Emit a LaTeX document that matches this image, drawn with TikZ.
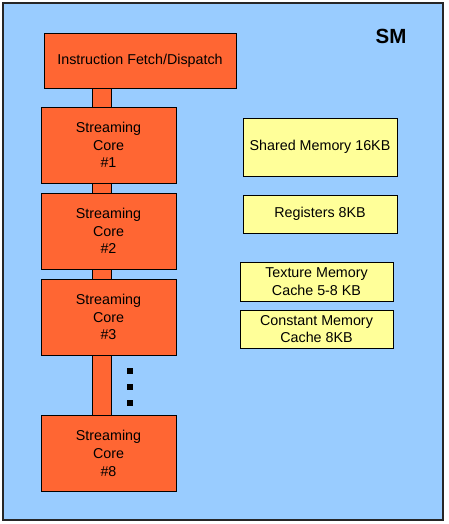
\documentclass[tikz,border=0pt]{standalone}
\usepackage{fontspec}
\setmainfont{Liberation Sans}
\usepackage{tikz}
\usetikzlibrary{backgrounds}
\usepackage{xcolor}
\definecolor{smblue}{HTML}{99CCFF}
\definecolor{coreorange}{HTML}{FF6633}
\definecolor{memyellow}{HTML}{FFFF99}
\tikzstyle{unit} = [draw=black, line width=0.8pt, fill=coreorange, align=center, inner sep=0pt, font=\fontsize{14.3}{17.8}\selectfont]
\tikzstyle{core} = [unit, minimum width=135pt, minimum height=76pt]
\tikzstyle{mem} = [unit, fill=memyellow, minimum width=154pt]
\tikzstyle{bus} = [draw=black, line width=0.8pt, fill=coreorange]
\tikzstyle{dot} = [fill=black, minimum size=6pt, inner sep=0pt]

\begin{document}
\begin{tikzpicture}[x=1pt, y=-1pt]
		            \useasboundingbox (0,0) rectangle (449,524);
		                \node [unit, minimum width=192pt, minimum height=55pt] (fetch) at (140,60.5) {Instruction Fetch/Dispatch};
		                \node [core] (core1) at (108.5,145) {Streaming\\Core\\\#1};
		                \node [core] (core2) at (108.5,231) {Streaming\\Core\\\#2};
		                \node [core] (core3) at (108.5,317) {Streaming\\Core\\\#3};
		                \node [core] (core8) at (108.5,453.5) {Streaming\\Core\\\#8};
		                \foreach \y/\n in {371/a,387/b,403/c}
		                    \node [dot] (dot\n) at (130,\y) {};
		                \node [mem, minimum height=58pt] (shared) at (320,147) {Shared Memory 16KB};
		                \node [mem, minimum height=38pt] (regs) at (320,214) {Registers 8KB};
		                \node [mem, minimum width=153pt, minimum height=39pt] (texture) at (316.5,281.5) {Texture Memory\\Cache 5-8 KB};
		                \node [mem, minimum width=153pt, minimum height=38pt] (constant) at (316.5,329) {Constant Memory\\Cache 8KB};
		                \node [font=\fontsize{20.5}{24}\selectfont\bfseries] (sm) at (391,36) {SM};
		                \coordinate (busL) at (92,0);
		                \coordinate (busR) at (111,0);
		                \begin{scope}[on background layer]
		                    \draw [draw=black!85, line width=1.2pt, fill=smblue] (3,3) rectangle (443,520);
		                    \path [bus] (fetch.south -| busL) rectangle (core8.north -| busR);
		                \end{scope}
		            \end{tikzpicture}
\end{document}
